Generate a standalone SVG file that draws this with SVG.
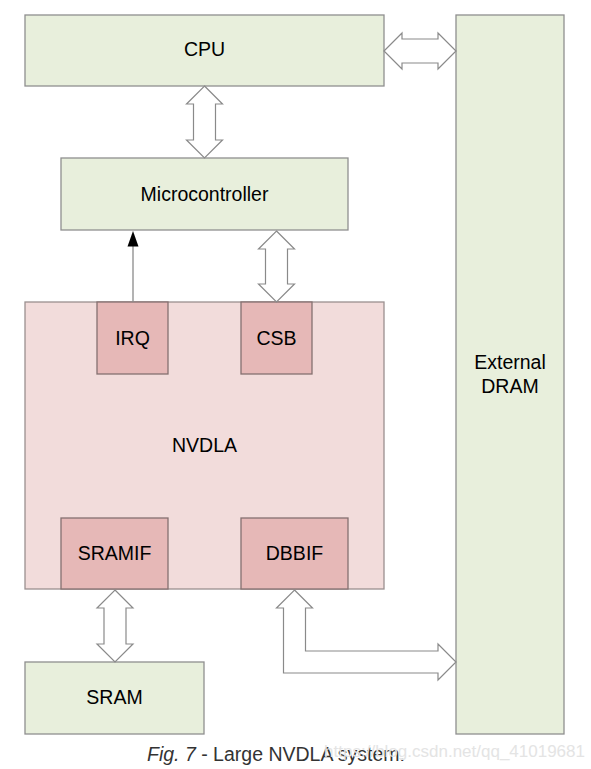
<svg xmlns="http://www.w3.org/2000/svg" width="591" height="769" viewBox="0 0 591 769">
<defs>
<style>
.g{fill:#e8efdc;stroke:#8f8f8f;stroke-width:1.3}
.p{fill:#f2dcdb;stroke:#9a9090;stroke-width:1.3}
.q{fill:#e6b8b7;stroke:#857070;stroke-width:1.3}
.t{font-family:"Liberation Sans",Arial,sans-serif;font-size:19.5px;fill:#000;text-anchor:middle}
.a{fill:#fff;stroke:#8a8a8a;stroke-width:1.2;stroke-linejoin:miter}
.cap{font-family:"Liberation Sans",Arial,sans-serif;font-size:19.5px;fill:#333}
</style>
</defs>
<rect width="591" height="769" fill="#fff"/>
<g id="cpu"><rect class="g" x="25" y="15" width="359" height="71"/><text class="t" x="204.5" y="56">CPU</text></g>
<g id="dram"><rect class="g" x="456" y="15" width="108" height="719"/><text class="t" x="510" y="369">External</text><text class="t" x="510" y="393">DRAM</text></g>
<g id="micro"><rect class="g" x="61" y="158" width="287" height="72"/><text class="t" x="204.5" y="201">Microcontroller</text></g>
<g id="nvdla"><rect class="p" x="25" y="302" width="359" height="287"/><text class="t" x="204.5" y="452">NVDLA</text></g>
<g id="irq"><rect class="q" x="97" y="302" width="71" height="72"/><text class="t" x="132.5" y="345">IRQ</text></g>
<g id="csb"><rect class="q" x="241" y="302" width="71" height="72"/><text class="t" x="276.5" y="345">CSB</text></g>
<g id="sramif"><rect class="q" x="61" y="518" width="107" height="71"/><text class="t" x="114.5" y="560">SRAMIF</text></g>
<g id="dbbif"><rect class="q" x="241" y="518" width="107" height="71"/><text class="t" x="294.5" y="560">DBBIF</text></g>
<g id="sram"><rect class="g" x="25" y="662" width="179" height="72"/><text class="t" x="114.5" y="704">SRAM</text></g>
<g id="connectors">
<polygon class="a" points="384,51 402,33 402,39 438,39 438,33 456,51 438,69 438,63 402,63 402,69"/>
<polygon class="a" points="204.5,86 222.5,104 215.5,104 215.5,140 222.5,140 204.5,158 186.5,140 193.5,140 193.5,104 186.5,104"/>
<polygon class="a" points="276.5,231 294.5,249 287.5,249 287.5,284 294.5,284 276.5,302 258.5,284 265.5,284 265.5,249 258.5,249"/>
<polygon class="a" points="115,590 133,608 126,608 126,644 133,644 115,662 97,644 104,644 104,608 97,608"/>
<polygon class="a" points="294.5,590 312.5,608 305.5,608 305.5,651 438,651 438,644 456,662 438,680 438,673 283.5,673 283.5,608 276.5,608"/>
<line x1="133" y1="302" x2="133" y2="245" stroke="#8a8a8a" stroke-width="1.3"/>
<polygon points="133,231 138.5,246.5 127.5,246.5" fill="#000"/>
</g>
<text class="cap" x="147" y="761"><tspan font-style="italic">Fig. 7</tspan> - Large NVDLA system.</text>
<text x="585" y="757" font-family="Liberation Sans,Arial,sans-serif" font-size="17" fill="#e4e4e4" text-anchor="end">https://blog.csdn.net/qq_41019681</text>
</svg>
